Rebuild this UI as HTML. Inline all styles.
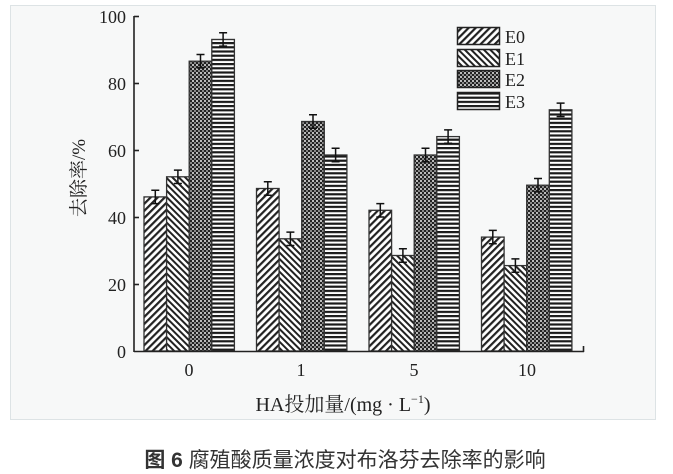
<!DOCTYPE html>
<html><head><meta charset="utf-8"><style>
html,body{margin:0;padding:0;background:#fff;width:673px;height:474px;overflow:hidden}
</style></head><body>
<svg width="673" height="474" xmlns="http://www.w3.org/2000/svg">
<defs>
<pattern id="p0" width="5" height="5" patternUnits="userSpaceOnUse" patternTransform="rotate(45)">
<rect width="5" height="5" fill="#fff"/><rect width="2.2" height="5" fill="#222"/></pattern>
<pattern id="p1" width="4.5" height="4.5" patternUnits="userSpaceOnUse" patternTransform="rotate(-45)">
<rect width="4.5" height="4.5" fill="#fff"/><rect width="2" height="4.5" fill="#222"/></pattern>
<pattern id="p2" width="4" height="4" patternUnits="userSpaceOnUse">
<rect width="4" height="4" fill="#222"/><rect x="0" y="0" width="2" height="2" fill="#bbb"/><rect x="2" y="2" width="2" height="2" fill="#888"/></pattern>
<pattern id="p3" width="4" height="4.2" patternUnits="userSpaceOnUse">
<rect width="4" height="4.2" fill="#fff"/><rect width="4" height="2.2" fill="#1a1a1a"/></pattern>
</defs>
<rect x="10.5" y="5.5" width="645" height="414" fill="#f7f8f8" stroke="#dde3e5"/>
<g stroke="#333" stroke-width="1.3">
<rect x="144" y="196.9" width="22.6" height="154.1" fill="url(#p0)"/>
<rect x="166.6" y="176.8" width="22.6" height="174.2" fill="url(#p1)"/>
<rect x="189.2" y="61.2" width="22.6" height="289.8" fill="url(#p2)"/>
<rect x="211.8" y="39.45" width="22.6" height="311.55" fill="url(#p3)"/>
<rect x="256.5" y="188.5" width="22.6" height="162.5" fill="url(#p0)"/>
<rect x="279.1" y="238.8" width="22.6" height="112.2" fill="url(#p1)"/>
<rect x="301.7" y="121.5" width="22.6" height="229.5" fill="url(#p2)"/>
<rect x="324.3" y="155" width="22.6" height="196" fill="url(#p3)"/>
<rect x="369" y="210.3" width="22.6" height="140.7" fill="url(#p0)"/>
<rect x="391.6" y="255.5" width="22.6" height="95.5" fill="url(#p1)"/>
<rect x="414.2" y="155" width="22.6" height="196" fill="url(#p2)"/>
<rect x="436.8" y="136.6" width="22.6" height="214.4" fill="url(#p3)"/>
<rect x="481.5" y="237.1" width="22.6" height="113.9" fill="url(#p0)"/>
<rect x="504.1" y="265.6" width="22.6" height="85.4" fill="url(#p1)"/>
<rect x="526.7" y="185.2" width="22.6" height="165.8" fill="url(#p2)"/>
<rect x="549.3" y="109.8" width="22.6" height="241.2" fill="url(#p3)"/>
</g>
<g stroke="#111" stroke-width="1.5" fill="none">
<path d="M155.3 190.2V203.6M151.3 190.2H159.3M151.3 203.6H159.3"/>
<path d="M177.9 170.1V183.5M173.9 170.1H181.9M173.9 183.5H181.9"/>
<path d="M200.5 54.5V67.9M196.5 54.5H204.5M196.5 67.9H204.5"/>
<path d="M223.1 32.75V46.15M219.1 32.75H227.1M219.1 46.15H227.1"/>
<path d="M267.8 181.8V195.2M263.8 181.8H271.8M263.8 195.2H271.8"/>
<path d="M290.4 232.1V245.5M286.4 232.1H294.4M286.4 245.5H294.4"/>
<path d="M313 114.8V128.2M309 114.8H317M309 128.2H317"/>
<path d="M335.6 148.3V161.7M331.6 148.3H339.6M331.6 161.7H339.6"/>
<path d="M380.3 203.6V217M376.3 203.6H384.3M376.3 217H384.3"/>
<path d="M402.9 248.8V262.2M398.9 248.8H406.9M398.9 262.2H406.9"/>
<path d="M425.5 148.3V161.7M421.5 148.3H429.5M421.5 161.7H429.5"/>
<path d="M448.1 129.9V143.3M444.1 129.9H452.1M444.1 143.3H452.1"/>
<path d="M492.8 230.4V243.8M488.8 230.4H496.8M488.8 243.8H496.8"/>
<path d="M515.4 258.9V272.3M511.4 258.9H519.4M511.4 272.3H519.4"/>
<path d="M538 178.5V191.9M534 178.5H542M534 191.9H542"/>
<path d="M560.6 103.1V116.5M556.6 103.1H564.6M556.6 116.5H564.6"/>
</g>
<g stroke="#222" stroke-width="1.6" fill="none">
<line x1="134" y1="16" x2="134" y2="352"/>
<line x1="134" y1="351.5" x2="584" y2="351.5"/>
<line x1="583.5" y1="352" x2="583.5" y2="346"/>
<line x1="134" y1="16.5" x2="139" y2="16.5"/>
<line x1="134" y1="83.5" x2="139" y2="83.5"/>
<line x1="134" y1="150.5" x2="139" y2="150.5"/>
<line x1="134" y1="217.5" x2="139" y2="217.5"/>
<line x1="134" y1="284.5" x2="139" y2="284.5"/>
</g>
<g font-family="Liberation Serif, serif" font-size="18" fill="#222" text-anchor="end">
<text x="126" y="23">100</text><text x="126" y="90">80</text><text x="126" y="157">60</text>
<text x="126" y="224">40</text><text x="126" y="291">20</text><text x="126" y="358">0</text>
</g>
<g font-family="Liberation Serif, serif" font-size="18" fill="#222" text-anchor="middle">
<text x="189" y="376">0</text><text x="301" y="376">1</text><text x="414" y="376">5</text><text x="527" y="376">10</text>
</g>
<text x="343" y="411" font-family="Liberation Serif, 'Noto Serif CJK SC', serif" font-size="20" fill="#222" text-anchor="middle">HA投加量/(mg · L<tspan font-size="12" dy="-8">−1</tspan><tspan dy="8">)</tspan></text>
<text transform="translate(85,178) rotate(-90)" font-family="Liberation Serif, 'Noto Serif CJK SC', serif" font-size="19" fill="#222" text-anchor="middle">去除率/%</text>
<g stroke="#222" stroke-width="1.5">
<rect x="457.5" y="27.5" width="42" height="17" fill="url(#p0)"/>
<rect x="457.5" y="49.5" width="42" height="17" fill="url(#p1)"/>
<rect x="457.5" y="70.5" width="42" height="17" fill="url(#p2)"/>
<rect x="457.5" y="92.5" width="42" height="17" fill="url(#p3)"/>
</g>
<g font-family="Liberation Serif, serif" font-size="18" fill="#222">
<text x="505" y="43">E0</text><text x="505" y="65">E1</text><text x="505" y="86">E2</text><text x="505" y="108">E3</text>
</g>
<text x="345" y="467" font-family="Liberation Sans, 'Noto Sans CJK SC', sans-serif" font-size="21" fill="#333" text-anchor="middle"><tspan font-weight="bold">图 6</tspan>  腐殖酸质量浓度对布洛芬去除率的影响</text>
</svg>
</body></html>
